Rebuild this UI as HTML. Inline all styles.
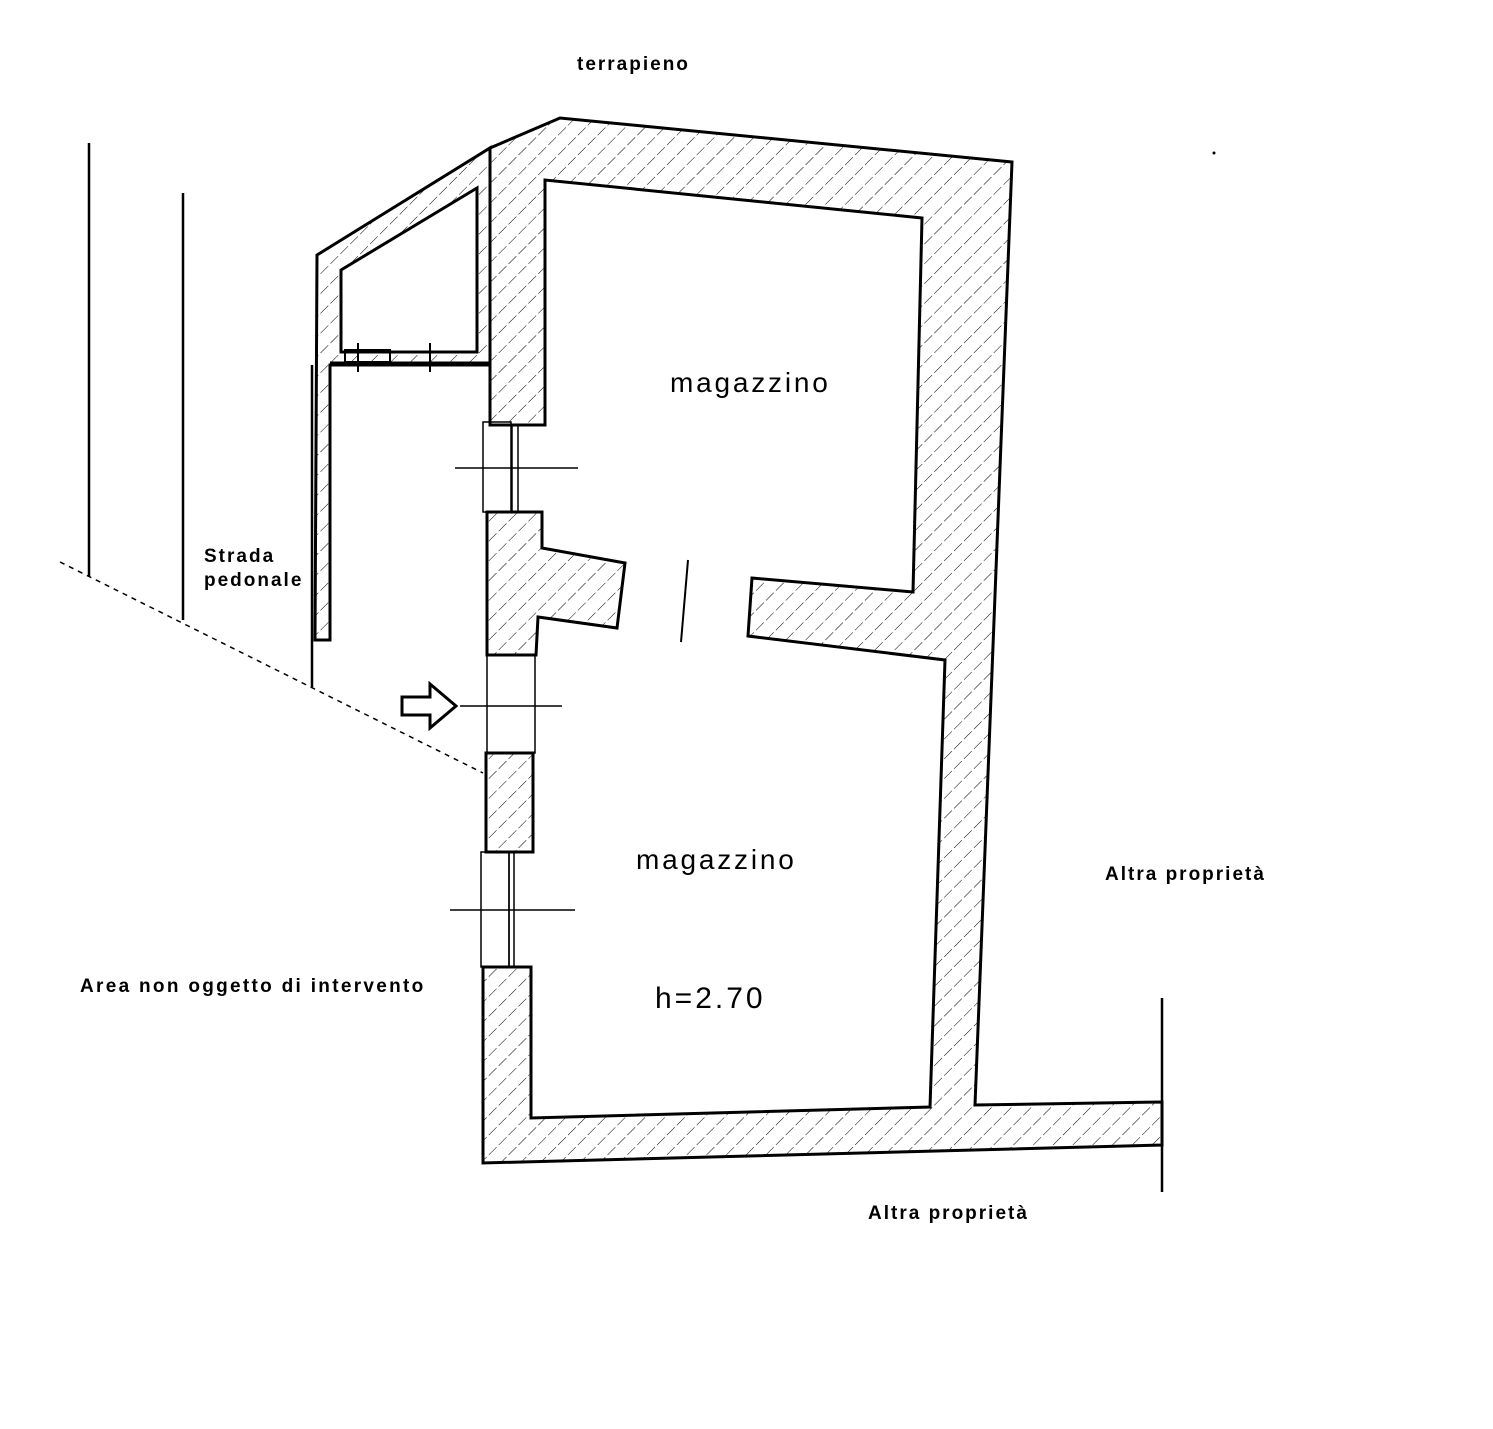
<!DOCTYPE html>
<html><head><meta charset="utf-8"><style>
html,body{margin:0;padding:0;background:#fff;}
svg{display:block;}
text{font-family:"Liberation Sans",sans-serif;fill:#000;}
</style></head><body>
<svg width="1493" height="1429" viewBox="0 0 1493 1429" xmlns="http://www.w3.org/2000/svg">
<defs>
<pattern id="h" patternUnits="userSpaceOnUse" width="14" height="14" patternTransform="rotate(45)">
<line x1="0" y1="0" x2="0" y2="14" stroke="#000" stroke-width="1" stroke-dasharray="9,3"/>
</pattern>
</defs>
<g stroke="#000" stroke-width="3" fill="url(#h)" stroke-linejoin="miter">
<path fill-rule="evenodd" d="M317,255 L490,148 L490,365 L330,365 L330,640 L315,640 Z M341,270 L477,188 L477,352 L341,352 Z"/>
<path d="M490,148 L560,118 L1012,162 L975,1105 L1162,1102 L1162,1145 L483,1163 L483,967 L531,967 L531,1118 L930,1107 L945,660 L748,636 L752,578 L913,592 L922,218 L545,180 L545,425 L490,425 Z"/>
<path d="M487,512 L542,512 L542,548 L625,563 L617,628 L538,617 L536,655 L487,655 Z"/>
<path d="M486,753 L533,753 L533,852 L486,852 Z"/>
</g>
<g stroke="#000" fill="none">
<line x1="330" y1="363" x2="490" y2="363" stroke-width="3"/>
<rect x="345" y="350" width="45" height="12" stroke-width="2"/>
<line x1="358" y1="343" x2="358" y2="372" stroke-width="2"/>
<line x1="430" y1="343" x2="430" y2="372" stroke-width="2"/>
<rect x="483" y="422" width="28" height="90" stroke-width="1.5"/>
<line x1="512" y1="425" x2="512" y2="512" stroke-width="1.5"/>
<line x1="518" y1="425" x2="518" y2="512" stroke-width="1.5"/>
<line x1="455" y1="468" x2="578" y2="468" stroke-width="1.5"/>
<rect x="487" y="655" width="48" height="98" stroke-width="1.5"/>
<line x1="460" y1="706" x2="562" y2="706" stroke-width="1.5"/>
<path d="M402,697 L430,697 L430,684 L456,706 L430,728 L430,715 L402,715 Z" stroke-width="3" fill="#fff"/>
<rect x="481" y="852" width="28" height="115" stroke-width="1.5"/>
<line x1="509" y1="852" x2="509" y2="967" stroke-width="1.5"/>
<line x1="514" y1="852" x2="514" y2="967" stroke-width="1.5"/>
<line x1="450" y1="910" x2="575" y2="910" stroke-width="1.5"/>
<line x1="688" y1="560" x2="681" y2="642" stroke-width="2"/>
<line x1="89" y1="143" x2="89" y2="577" stroke-width="2.5"/>
<line x1="183" y1="193" x2="183" y2="620" stroke-width="2.5"/>
<line x1="312" y1="365" x2="312" y2="687" stroke-width="2.5"/>
<line x1="60" y1="562" x2="483" y2="773" stroke-width="1.5" stroke-dasharray="5,5"/>
<line x1="1162" y1="998" x2="1162" y2="1192" stroke-width="2.5"/>
</g>
<text x="577" y="70" font-size="19" font-weight="bold" letter-spacing="2">terrapieno</text>
<text x="670" y="392" font-size="28" letter-spacing="2.8">magazzino</text>
<text x="636" y="869" font-size="28" letter-spacing="2.8">magazzino</text>
<text x="655" y="1008" font-size="30" letter-spacing="3">h=2.70</text>
<text x="204" y="562" font-size="19" font-weight="bold" letter-spacing="2">Strada</text>
<text x="204" y="586" font-size="19" font-weight="bold" letter-spacing="2">pedonale</text>
<text x="80" y="992" font-size="19" font-weight="bold" letter-spacing="2.3">Area non oggetto di intervento</text>
<text x="1105" y="880" font-size="19" font-weight="bold" letter-spacing="2">Altra proprietà</text>
<text x="868" y="1219" font-size="19" font-weight="bold" letter-spacing="2">Altra proprietà</text>
<circle cx="1214" cy="153" r="1.5" fill="#000"/>
</svg>
</body></html>
